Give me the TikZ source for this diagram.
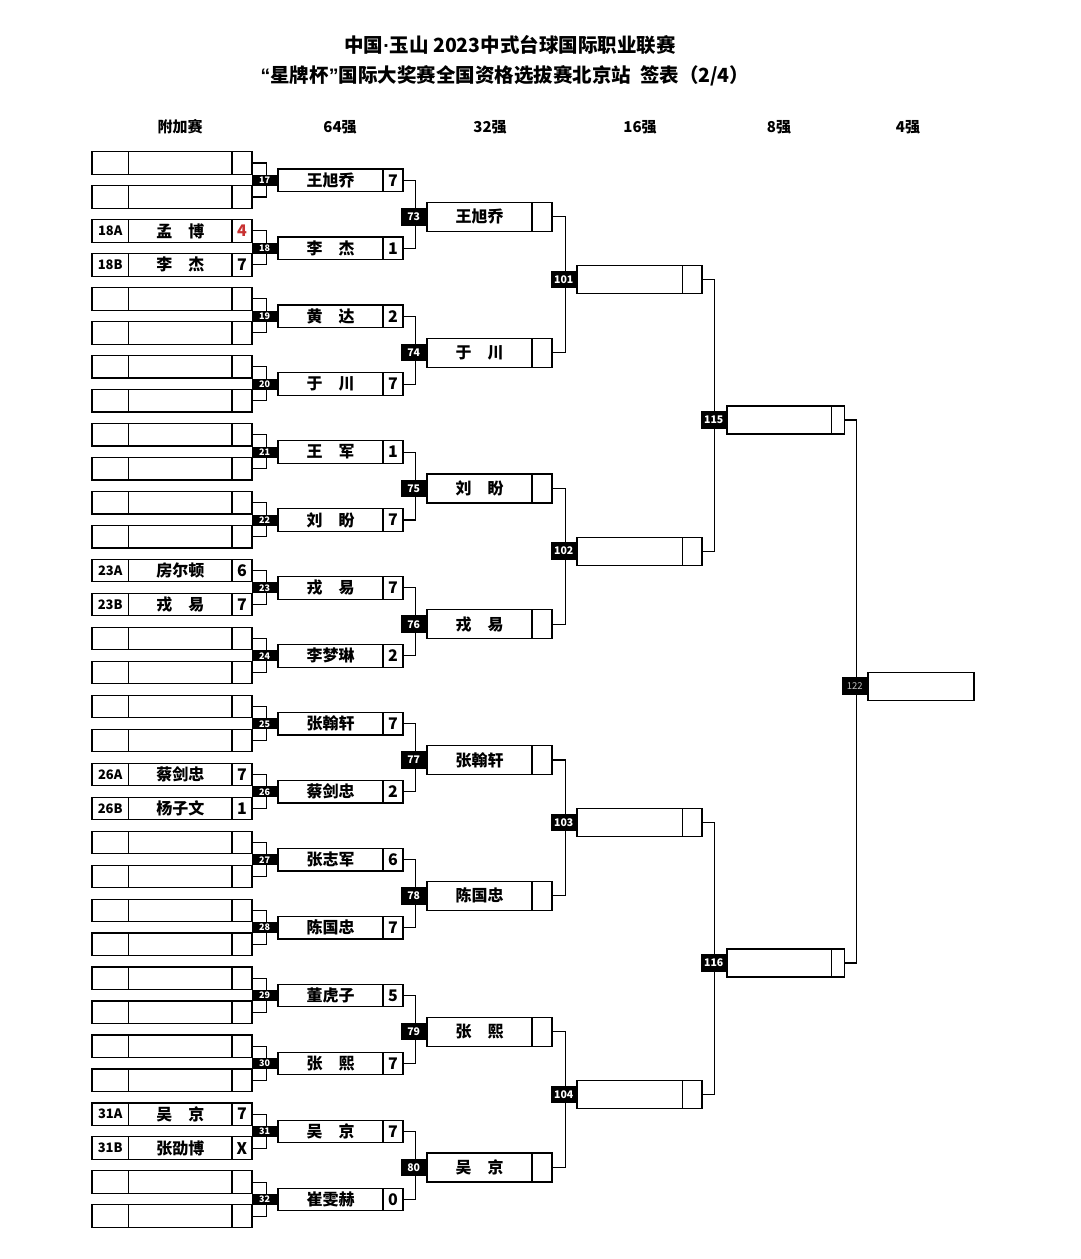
\documentclass[tikz,border=0pt]{standalone}
\usepackage{fontspec}
\setmainfont{Noto Sans CJK SC}
\newfontfamily\lib{Liberation Sans}
\definecolor{scorered}{RGB}{200,50,50}
\begin{document}
\begin{tikzpicture}[x=1pt,y=-1pt,
  cell/.style={draw, line width=1.2pt, inner sep=0pt, fill=white},
  nmfont/.style={font=\bfseries\fontsize{16}{16}\selectfont},
  plab/.style={cell, minimum width=36.5, minimum height=22.5, font=\bfseries\fontsize{13}{13}\selectfont},
  pname/.style={cell, nmfont, minimum width=103.5, minimum height=22.5},
  pscore/.style={cell, nmfont, minimum width=20, minimum height=22.5},
  rname/.style={cell, nmfont, minimum width=105, minimum height=22.5},
  rscore/.style={cell, nmfont, minimum width=20, minimum height=22.5},
  bname/.style={cell, nmfont, minimum width=105, minimum height=29},
  bscore/.style={cell, nmfont, minimum width=20, minimum height=29},
  cname/.style={cell, nmfont, minimum width=105.5, minimum height=28},
  cscore/.style={cell, nmfont, minimum width=19.5, minimum height=28},
  dname/.style={cell, nmfont, minimum width=104.7, minimum height=28},
  dscore/.style={cell, nmfont, minimum width=12.6, minimum height=28},
  fbox/.style={cell, minimum width=106, minimum height=28},
  conn/.style={line width=1.1pt},
  smalltag/.style={fill=black, text=white, inner sep=0pt, minimum width=25, minimum height=11, anchor=east, font=\bfseries\fontsize{9}{9}\selectfont},
  bigtag/.style={fill=black, text=white, inner sep=0pt, minimum width=25, minimum height=17.5, anchor=east, font=\bfseries\fontsize{10.5}{10.5}\selectfont},
  head/.style={font=\bfseries\fontsize{15}{15}\selectfont},
  ttl/.style={font=\bfseries\fontsize{19.5}{19.5}\selectfont}
]
\fill[white] (0,0) rectangle (1080,1259);
\useasboundingbox (0,0) rectangle (1080,1259);

% title
\node[ttl] (t1) at (510,45) {中国{\lib\bfseries ·}玉山 2023中式台球国际职业联赛};
\node[ttl] (t2) at (505,76) {{\lib\bfseries “}星牌杯{\lib\bfseries ”}国际大奖赛全国资格选拔赛北京站\ \ 签表（2/4）};

% headers
\node[head] (h0) at (180,127) {附加赛};
\node[head] (h1) at (340,127) {64强};
\node[head] (h2) at (490,127) {32强};
\node[head] (h3) at (640,127) {16强};
\node[head] (h4) at (779,127) {8强};
\node[head] (h5) at (908,127) {4强};

% pre-round boxes
\foreach \i/\lab/\nm/\sc in {0/{}/{}/{},1/{}/{}/{},
  2/18A/孟\quad 博/\textcolor{scorered}{4},3/18B/李\quad 杰/7,
  4/{}/{}/{},5/{}/{}/{},6/{}/{}/{},7/{}/{}/{},8/{}/{}/{},9/{}/{}/{},10/{}/{}/{},11/{}/{}/{},
  12/23A/房尔顿/6,13/23B/戎\quad 易/7,
  14/{}/{}/{},15/{}/{}/{},16/{}/{}/{},17/{}/{}/{},
  18/26A/蔡剑忠/7,19/26B/杨子文/1,
  20/{}/{}/{},21/{}/{}/{},22/{}/{}/{},23/{}/{}/{},24/{}/{}/{},25/{}/{}/{},26/{}/{}/{},27/{}/{}/{},
  28/31A/吴\quad 京/7,29/31B/张劭博/X,
  30/{}/{}/{},31/{}/{}/{}}
{
  \pgfmathsetmacro\yy{163+33.97*\i}
  \node[plab] (pl\i) at (110.25,\yy) {\lab};
  \node[pname] (pn\i) at (180.25,\yy) {\nm};
  \node[pscore] (ps\i) at (242,\yy) {\sc};
}

% round of 64
\foreach \j/\nm/\sc in {0/王旭乔/7,1/李\quad 杰/1,2/黄\quad 达/2,3/于\quad 川/7,
  4/王\quad 军/1,5/刘\quad 盼/7,6/戎\quad 易/7,7/李梦琳/2,
  8/张翰轩/7,9/蔡剑忠/2,10/张志军/6,11/陈国忠/7,
  12/董虎子/5,13/张\quad 熙/7,14/吴\quad 京/7,15/崔雯赫/0}
{
  \pgfmathsetmacro\yy{180.3+67.94*\j}
  \node[rname] (an\j) at (330.5,\yy) {\nm};
  \node[rscore] (as\j) at (393,\yy) {\sc};
}

% round of 32
\foreach \k/\nm in {0/王旭乔,1/于\quad 川,2/刘\quad 盼,3/戎\quad 易,
  4/张翰轩,5/陈国忠,6/张\quad 熙,7/吴\quad 京}
{
  \pgfmathsetmacro\yy{216.8+135.8*\k}
  \node[bname] (bn\k) at (479.5,\yy) {\nm};
  \node[bscore] (bs\k) at (542,\yy) {};
}

% round of 16
\foreach \m in {0,...,3}
{
  \pgfmathsetmacro\yy{279.5+271.6*\m}
  \node[cname] (cn\m) at (629.75,\yy) {};
  \node[cscore] (cs\m) at (692.25,\yy) {};
}

% round of 8
\foreach \n in {0,1}
{
  \pgfmathsetmacro\yy{420+543*\n}
  \node[dname] (dn\n) at (779.35,\yy) {};
  \node[dscore] (ds\n) at (838,\yy) {};
}

% final four box
\node[fbox] (fn) at (921,686.3) {};

% connectors
\foreach \k in {0,...,15}
{
  \pgfmathtruncatemacro\a{2*\k}
  \pgfmathtruncatemacro\b{2*\k+1}
  \draw[conn] (ps\a.east) -- ++(13.5,0) |- (ps\b.east);
}
\foreach \k in {0,...,7}
{
  \pgfmathtruncatemacro\a{2*\k}
  \pgfmathtruncatemacro\b{2*\k+1}
  \draw[conn] (as\a.east) -- ++(12,0) |- (as\b.east);
}
\foreach \k in {0,...,3}
{
  \pgfmathtruncatemacro\a{2*\k}
  \pgfmathtruncatemacro\b{2*\k+1}
  \draw[conn] (bs\a.east) -- ++(13,0) |- (bs\b.east);
}
\draw[conn] (cs0.east) -- ++(12,0) |- (cs1.east);
\draw[conn] (cs2.east) -- ++(12,0) |- (cs3.east);
\draw[conn] (ds0.east) -- ++(12,0) |- (ds1.east);

% match number tags
\foreach \j in {0,...,15}
{
  \pgfmathtruncatemacro\num{17+\j}
  \node[smalltag] (at\j) at (an\j.west) {\num};
}
\foreach \k in {0,...,7}
{
  \pgfmathtruncatemacro\num{73+\k}
  \node[bigtag] (bt\k) at (bn\k.west) {\num};
}
\foreach \m in {0,...,3}
{
  \pgfmathtruncatemacro\num{101+\m}
  \node[bigtag] (ct\m) at (cn\m.west) {\num};
}
\node[bigtag] (dt0) at (dn0.west) {115};
\node[bigtag] (dt1) at (dn1.west) {116};
\node[bigtag, text=black!25, font=\fontsize{9.5}{9.5}\selectfont, minimum height=18] (ft) at (fn.west) {122};
\end{tikzpicture}
\end{document}
